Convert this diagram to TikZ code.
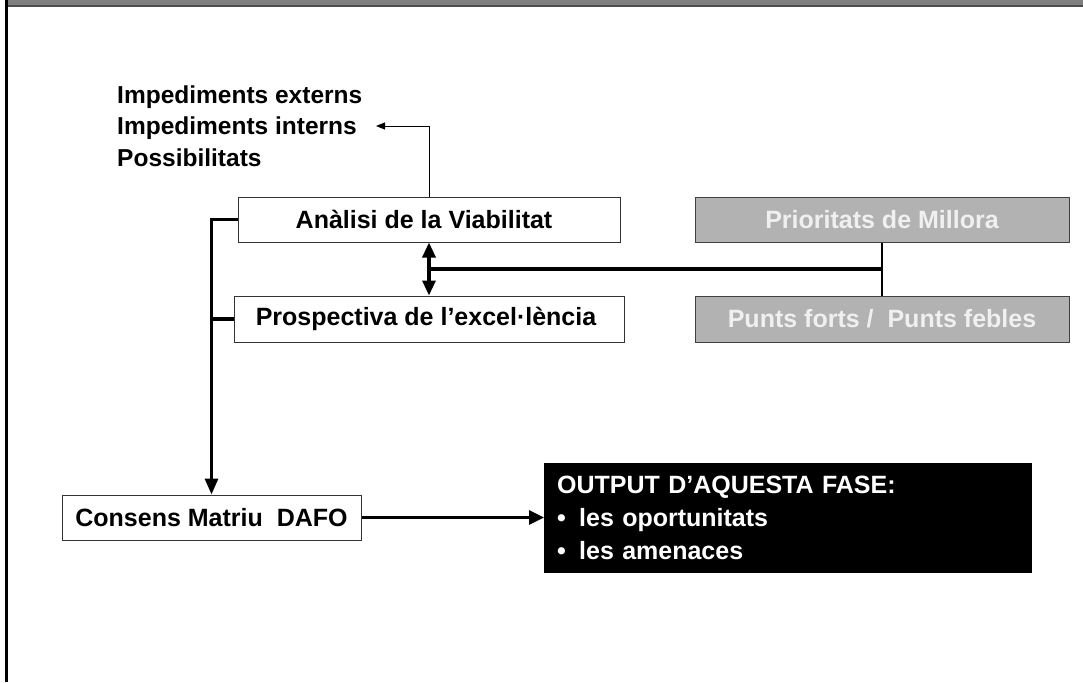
\documentclass[tikz,border=0pt]{standalone}
\usepackage{fontspec}
\setmainfont{Liberation Sans}
\usetikzlibrary{arrows.meta}
\begin{document}
\begin{tikzpicture}[x=1pt,y=-1pt,
  every node/.style={font=\fontsize{25}{30}\selectfont\bfseries},
  wbox/.style={draw=black!80, line width=1pt, fill=white, inner sep=0pt},
  gbox/.style={draw=black!75, line width=1pt, fill=gray!60, text=white!94!black, inner sep=0pt, minimum width=374pt, minimum height=45pt},
  conn/.style={line width=3.2pt},
  bigtip/.style={-{Triangle[length=16pt,width=13pt]}},
  dbltip/.style={{Triangle[length=15pt,width=13pt]}-{Triangle[length=15pt,width=13pt]}}
]
\useasboundingbox (0,0) rectangle (1083,682);
\fill[white] (0,0) rectangle (1083,682);
\fill[gray] (7,0) rectangle (1083,5);
\fill[black!70] (7,5) rectangle (1083,7);
\fill[black] (4.5,0) rectangle (7.5,682);

% top labels
\node[anchor=west, align=left, inner sep=0pt, font=\fontsize{24.5}{31.5}\selectfont\bfseries] (imp) at (117,126) {Impediments externs\\Impediments interns\\Possibilitats};
\coordinate (impend) at (376,126);

% boxes
\node[wbox, minimum width=382pt, minimum height=45pt] (ana) at (429,219.5) {\hspace*{-10pt}Anàlisi de la Viabilitat};
\node[wbox, minimum width=390pt, minimum height=46pt] (pros) at (429,319) {\hspace*{-6pt}Prospectiva de l’excel·lència};
\node[gbox] (pri) at (882,219.5) {Prioritats de Millora};
\node[gbox, minimum height=46pt] (pun) at (882,319) {Punts forts / \ Punts febles};
\node[wbox, minimum width=299pt, minimum height=45pt] (cons) at (211.5,517.5) {Consens Matriu\ \ DAFO};
\node[fill=black, text=white, anchor=north west, minimum width=488pt, minimum height=110pt,
      inner xsep=13pt, inner ysep=0pt, text width=462pt, align=left,
      font=\fontsize{25}{33}\selectfont\bfseries] (out) at (544,463)
  {OUTPUT D’AQUESTA FASE:\\\makebox[22pt][l]{•}les oportunitats\\\makebox[22pt][l]{•}les amenaces};

% connectors
\draw[line width=1pt, -{Triangle[length=9pt,width=7pt]}] (ana.north) |- (impend);
\draw[conn, bigtip] (ana.west) -| (cons.north);
\draw[conn] (pros.west) -- (pros.west -| cons.north);
\draw[conn, dbltip] (ana.south) -- (pros.north);
\path (pri.south) -- (pun.north) coordinate[pos=0.5] (j);
\draw[line width=2.5pt] (pri.south) -- (pun.north);
\draw[conn] (j) -- (j -| ana.south);
\draw[conn, -{Triangle[length=15pt,width=14pt]}] (cons.east) -- (cons.east -| out.west);
\end{tikzpicture}
\end{document}
